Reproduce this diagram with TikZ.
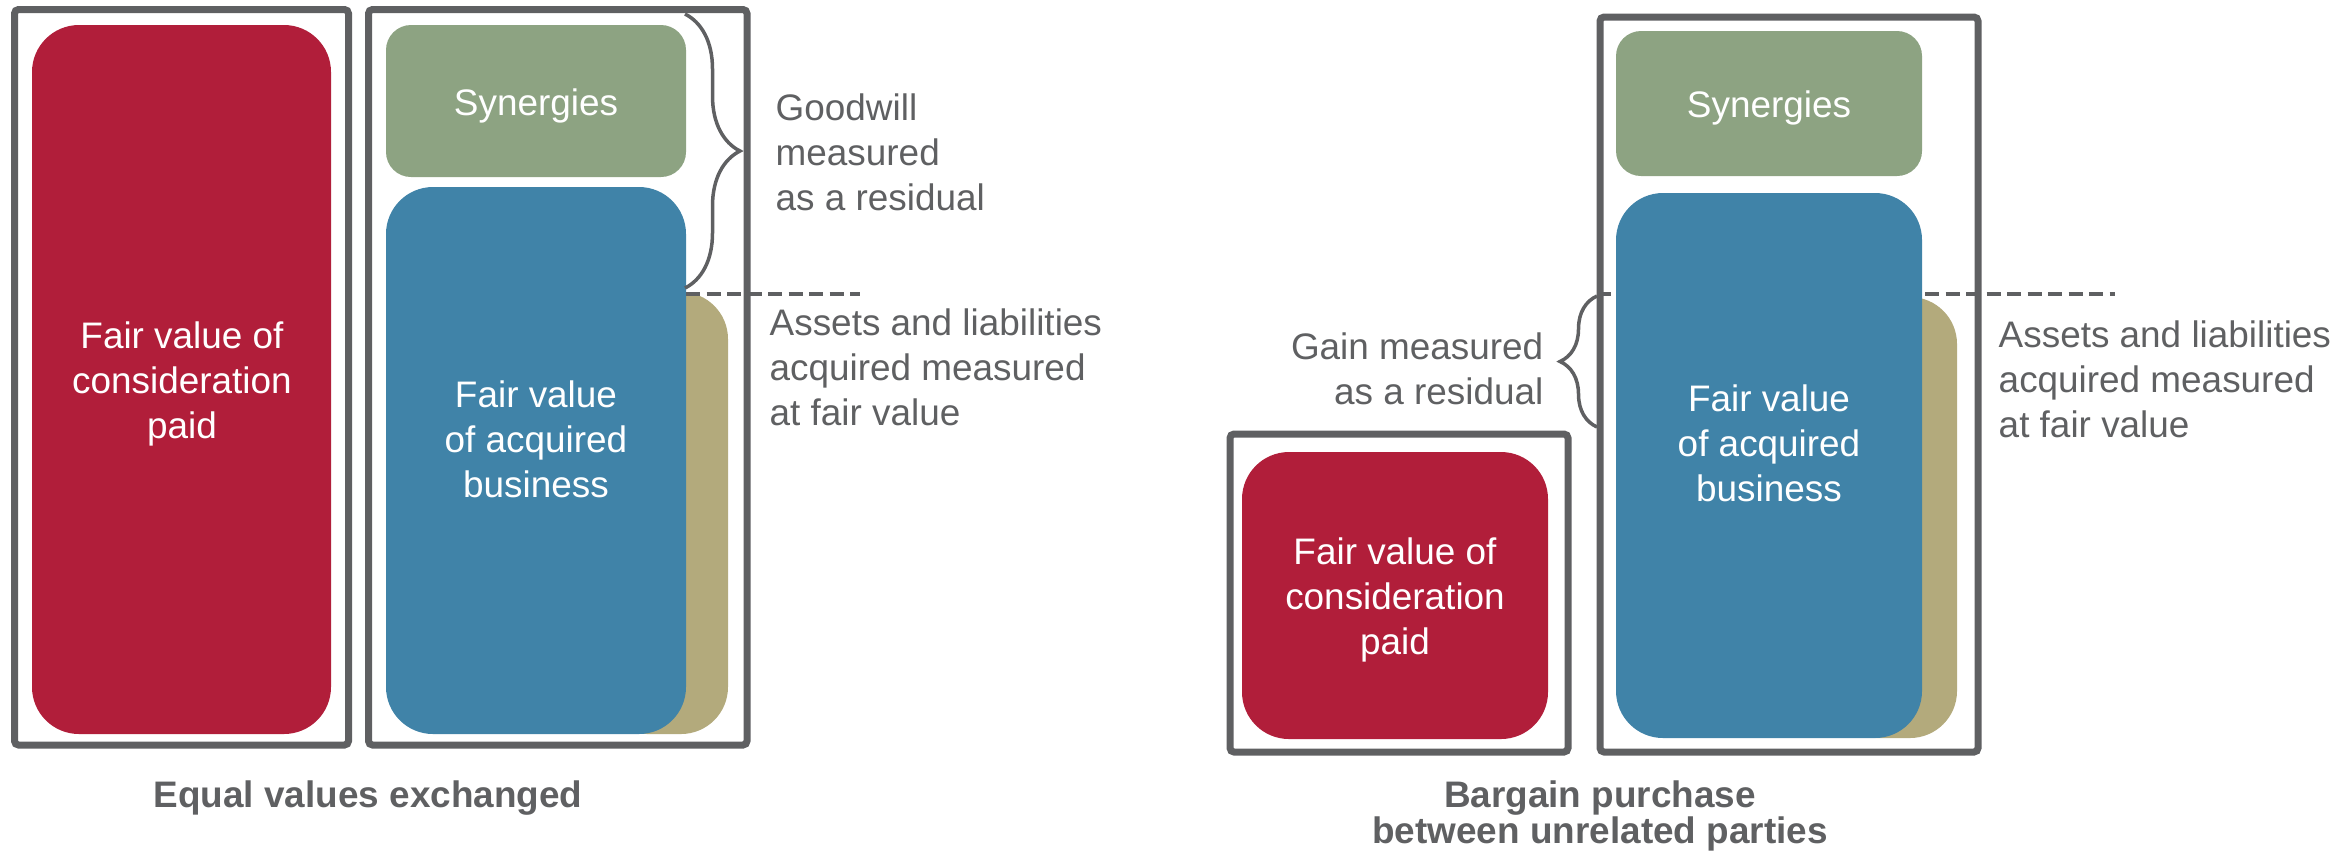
\documentclass[tikz,border=0pt]{standalone}
\usepackage{fontspec}
\setmainfont{Liberation Sans}
\usetikzlibrary{decorations.pathreplacing}
\definecolor{fvred}{HTML}{B11E3A}
\definecolor{syngreen}{HTML}{8DA382}
\definecolor{bizblue}{HTML}{4083A8}
\definecolor{assettan}{HTML}{B3AA7C}
\definecolor{framegray}{HTML}{5F6062}

\begin{document}
\begin{tikzpicture}[x=0.1mm, y=-0.1mm,
  frame/.style={draw=framegray, line width=0.7mm, rounded corners=0.4mm, anchor=north west, inner sep=0pt, outer sep=0pt},
  block/.style={rounded corners=4.7mm, anchor=north west, inner sep=0pt, outer sep=0pt},
  intext/.style={text=white, align=center, anchor=base, inner sep=0pt, font=\fontsize{10.5}{12.8}\selectfont},
  note/.style={text=framegray, align=left, anchor=base west, inner sep=0pt, font=\fontsize{10.5}{12.8}\selectfont},
  caption/.style={text=framegray, align=center, anchor=base, inner sep=0pt, font=\fontsize{10.5}{10.2}\selectfont\bfseries},
  cut/.style={draw=framegray, line width=0.4mm, dash pattern=on 1.4mm off 0.65mm},
  curly/.style={draw=framegray, line width=0.35mm, decorate, decoration={brace, amplitude=#1}}]
\useasboundingbox (0,0) rectangle (2351,858);

% equal values exchanged
\node[frame, minimum width=33.4mm, minimum height=73.55mm] (frameA) at (14.5,9.5) {};
\node[frame, minimum width=37.85mm, minimum height=73.55mm] (frameB) at (368.5,9.5) {};
\node[block, fill=fvred, minimum width=29.9mm, minimum height=70.9mm] (redA) at (32,25) {};
\node[block, fill=syngreen, rounded corners=2.5mm, minimum width=30mm, minimum height=15.2mm] (synA) at (386,25) {};
\node[block, fill=assettan, minimum width=12.8mm, minimum height=44.2mm] (tanA) at (600,292) {};
\node[block, fill=bizblue, minimum width=30mm, minimum height=54.7mm] (blueA) at (386,187) {};
\coordinate (cutA) at (860,294);
\draw[cut] (blueA.east |- cutA) -- (cutA);
\coordinate (braceAtop) at (685,14);
\coordinate (braceAbot) at (685,288);
\draw[curly=5.5mm] (braceAtop) -- (braceAbot);

\node[intext] (synAtxt) at (536,115) {Synergies};
\node[intext] (redAtxt) at (182,438) {Fair value of\\consideration\\paid};
\node[intext] (blueAtxt) at (536,497) {Fair value\\of acquired\\business};
\node[note] (goodwill) at (775,210) {Goodwill\\measured\\as a residual};
\node[note] (assetsA) at (769,425) {Assets and liabilities\\acquired measured\\at fair value};
\node[caption] (capA) at (368,807) {Equal values exchanged};

% bargain purchase
\node[frame, minimum width=33.8mm, minimum height=31.8mm] (frameC) at (1230,434) {};
\node[block, fill=fvred, minimum width=30.6mm, minimum height=28.7mm] (redC) at (1242,452) {};
\coordinate (cutD) at (2115,294);
\draw[cut] (1597,294) -- (cutD);
\node[frame, minimum width=37.8mm, minimum height=73.5mm] (frameD) at (1600,17) {};
\node[block, fill=syngreen, rounded corners=2.5mm, minimum width=30.6mm, minimum height=14.5mm] (synD) at (1616,31) {};
\node[block, fill=assettan, minimum width=12.8mm, minimum height=44.1mm] (tanD) at (1829,297) {};
\node[block, fill=bizblue, minimum width=30.6mm, minimum height=54.5mm] (blueD) at (1616,193) {};
\coordinate (braceDbot) at (1597,427);
\coordinate (braceDtop) at (1597,296);
\draw[curly=3.7mm] (braceDbot) -- (braceDtop);

\node[intext] (synDtxt) at (1769,117) {Synergies};
\node[intext] (redCtxt) at (1395,654) {Fair value of\\consideration\\paid};
\node[intext] (blueDtxt) at (1769,501) {Fair value\\of acquired\\business};
\node[note, align=right, anchor=base east] (gain) at (1544,404) {Gain measured\\as a residual};
\node[note] (assetsD) at (1998,437) {Assets and liabilities\\acquired measured\\at fair value};
\node[caption] (capB) at (1600,843) {Bargain purchase\\between unrelated parties};
\end{tikzpicture}
\end{document}
